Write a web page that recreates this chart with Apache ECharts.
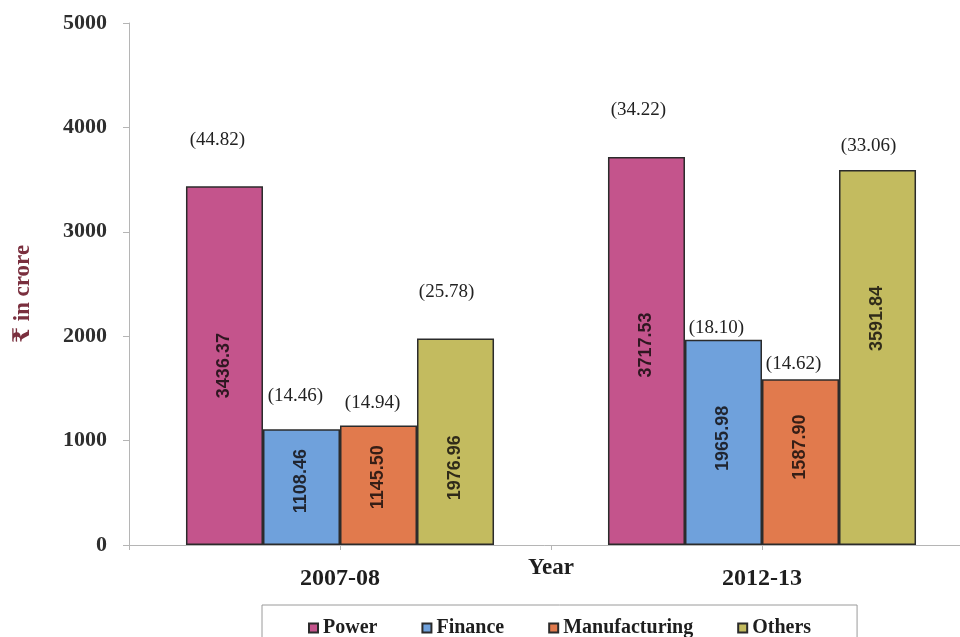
<!DOCTYPE html>
<html>
<head>
<meta charset="utf-8">
<title>Sector-wise amount, 2007-08 and 2012-13</title>
<script src="https://cdn.jsdelivr.net/npm/echarts@6/dist/echarts.min.js"></script>
<style>
  html, body { margin: 0; padding: 0; background: #ffffff; }
  #chart { width: 960px; height: 637px; }
</style>
</head>
<body>
<div id="chart"></div>
<script>
// Years on the category axis
const categories = ['2007-08', '2012-13'];

// Sectors shown as bars
const sectorNames = ['Power', 'Finance', 'Manufacturing', 'Others'];

// Amounts (₹ in crore)
const power = [3436.37, 3717.53];
const finance = [1108.46, 1965.98];
const manufacturing = [1145.50, 1587.90];
const others = [1976.96, 3591.84];

// Share of the year's total (per cent), printed in brackets above the bars
const powerShare = [44.82, 34.22];
const financeShare = [14.46, 18.10];
const manufacturingShare = [14.94, 14.62];
const othersShare = [25.78, 33.06];

// Value axis ticks
const yMin = 0;
const yMax = 5000;
const yStep = 1000;

const amounts = [power, finance, manufacturing, others];
const shares = [powerShare, financeShare, manufacturingShare, othersShare];
const colors = ['#c4548c', '#6fa1dc', '#e17a4d', '#c3bb5f'];

// Hand placement of the bracketed labels: [dx, gap above bar top] per sector and year
const shareLabelPlace = [
  [[-7, 46], [-8, 47]],
  [[-6, 33], [-7, 12]],
  [[-6, 22], [-7, 15]],
  [[-9, 47], [-9, 24]]
];
// Vertical shift of the rotated value labels from the bar middle (screen px, down positive)
const valueLabelShift = [
  [0, -6],
  [-6, -4],
  [-8, -15],
  [26, -39]
];

const serif = "'Liberation Serif', 'Times New Roman', 'DejaVu Serif', serif";
const sans = "'Liberation Sans', Arial, sans-serif";

const series = [];
sectorNames.forEach(function (name, i) {
  series.push({
    name: name,
    type: 'bar',
    stack: name,
    xAxisIndex: 0,
    barGap: '0%',
    barCategoryGap: '27%',
    itemStyle: { color: colors[i], borderColor: '#2b2b2b', borderWidth: 1.5 },
    data: amounts[i].map(function (v, j) {
      return {
        value: v,
        label: {
          show: true,
          position: 'inside',
          rotate: 90,
          offset: [-valueLabelShift[i][j], 0],
          formatter: function (p) { return p.value.toFixed(2); },
          fontFamily: sans,
          fontWeight: 'bold',
          fontSize: 18,
          color: 'rgba(15, 10, 10, 0.82)'
        }
      };
    })
  });
  // zero-height carrier stacked on each bar, holding the bracketed share label
  series.push({
    name: name + ' share',
    type: 'bar',
    stack: name,
    xAxisIndex: 0,
    silent: true,
    itemStyle: { color: 'rgba(0,0,0,0)', borderWidth: 0 },
    data: shares[i].map(function (s, j) {
      return {
        value: 0,
        label: {
          show: true,
          position: 'top',
          distance: shareLabelPlace[i][j][1] - 10,
          offset: [shareLabelPlace[i][j][0], 0],
          formatter: function () { return '(' + s.toFixed(2) + ')'; },
          fontFamily: serif,
          fontSize: 19,
          lineHeight: 20,
          color: '#222222'
        }
      };
    })
  });
});

const chart = echarts.init(document.getElementById('chart'), null, { renderer: 'canvas' });
chart.setOption({
  animation: false,
  backgroundColor: '#ffffff',
  // the category axis runs on past the right edge of the canvas
  grid: { left: 129, right: -13, top: 23, bottom: 92, containLabel: false, outerBoundsMode: 'none' },
  legend: {
    data: sectorNames,
    top: 605,
    left: 262,
    orient: 'horizontal',
    borderColor: '#9a9a9a',
    borderWidth: 1,
    padding: [13, 46, 13, 46],
    itemWidth: 9,
    itemHeight: 9,
    itemGap: 44,
    icon: 'rect',
    textStyle: { fontFamily: serif, fontWeight: 'bold', fontSize: 20, color: '#1e1e1e' }
  },
  xAxis: [
    {
      type: 'category',
      data: categories,
      position: 'bottom',
      name: 'Year',
      nameLocation: 'middle',
      nameGap: 12,
      nameMoveOverlap: false,
      nameTextStyle: { fontFamily: serif, fontWeight: 'bold', fontSize: 23, color: '#1e1e1e' },
      axisLine: { show: true, lineStyle: { color: '#b5b5b5', width: 1 } },
      axisTick: { show: true, alignWithLabel: true, length: 5, lineStyle: { color: '#b5b5b5' } },
      axisLabel: { fontFamily: serif, fontWeight: 'bold', fontSize: 24, color: '#1e1e1e', margin: 22 },
      splitLine: { show: false }
    },
    {
      // boundary ticks between the two years
      type: 'category',
      data: categories,
      position: 'bottom',
      axisLine: { show: false },
      axisTick: { show: true, length: 5, lineStyle: { color: '#b5b5b5' } },
      axisLabel: { show: false },
      splitLine: { show: false }
    }
  ],
  yAxis: {
    type: 'value',
    min: yMin,
    max: yMax,
    interval: yStep,
    name: '₹ in crore',
    nameLocation: 'middle',
    nameGap: 94,
    nameRotate: 90,
    nameMoveOverlap: false,
    nameTextStyle: { fontFamily: serif, fontWeight: 'bold', fontSize: 23, color: '#7a2f3e', padding: [0, 20, 0, 0] },
    axisLine: { show: true, lineStyle: { color: '#b5b5b5', width: 1 } },
    axisTick: { show: true, length: 6, lineStyle: { color: '#b5b5b5' } },
    axisLabel: {
      fontFamily: serif, fontWeight: 'bold', fontSize: 22, color: '#2e2e2e', margin: 22,
      formatter: function (v) { return String(v); }
    },
    splitLine: { show: false }
  },
  series: series
});
</script>
</body>
</html>
